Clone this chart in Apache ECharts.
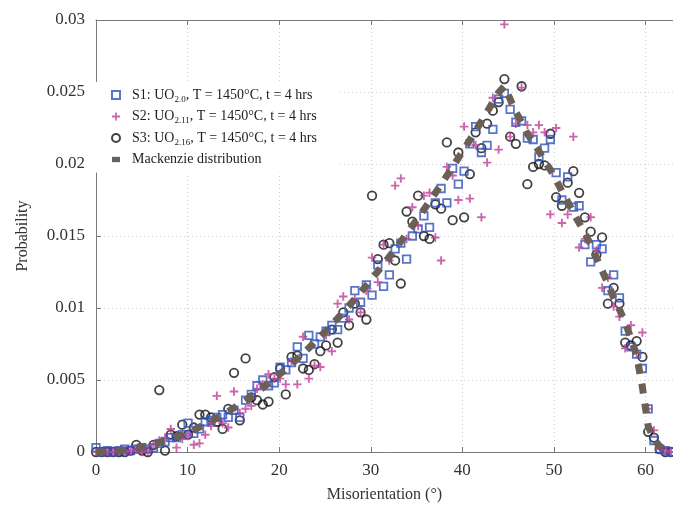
<!DOCTYPE html>
<html>
<head>
<meta charset="utf-8">
<script src="https://cdn.jsdelivr.net/npm/echarts@6/dist/echarts.min.js"></script>
<style>
  html, body { margin: 0; padding: 0; background: #fff; }
  #chart { width: 673px; height: 508px; }
</style>
</head>
<body>
<div id="chart"></div>
<script>
// Misorientation bin centres (degrees)
const angles = [0, 0.63, 1.26, 1.88, 2.51, 3.14, 3.77, 4.4, 5.02, 5.65, 6.28, 6.91, 7.54, 8.16, 8.79, 9.42,
  10.05, 10.68, 11.3, 11.93, 12.56, 13.19, 13.82, 14.44, 15.07, 15.7, 16.33, 16.96, 17.58, 18.21, 18.84, 19.47,
  20.1, 20.72, 21.35, 21.98, 22.61, 23.24, 23.86, 24.49, 25.12, 25.75, 26.38, 27, 27.63, 28.26, 28.89, 29.52,
  30.14, 30.77, 31.4, 32.03, 32.66, 33.28, 33.91, 34.54, 35.17, 35.8, 36.42, 37.05, 37.68, 38.31, 38.94, 39.56,
  40.19, 40.82, 41.45, 42.08, 42.7, 43.33, 43.96, 44.59, 45.22, 45.84, 46.47, 47.1, 47.73, 48.36, 48.98, 49.61,
  50.24, 50.87, 51.5, 52.12, 52.75, 53.38, 54.01, 54.64, 55.26, 55.89, 56.52, 57.15, 57.78, 58.4, 59.03, 59.66,
  60.29, 60.92, 61.54, 62.17, 62.8];

// S1: UO2.0
const s1 = [0.0003, 0, 0.0001, 0, 0.0001, 0.0002, 0.0001, 0.0002, 0.0003, 0.0002, 0.0003, 0.0006, 0.0007, 0.0010, 0.0010, 0.0012,
  0.0020, 0.0013, 0.0016, 0.0021, 0.0022, 0.0024, 0.0026, 0.0024, 0.0029, 0.0024, 0.0036, 0.0040, 0.0046, 0.0050, 0.0046, 0.0048,
  0.0059, 0.0057, 0.0062, 0.0073, 0.0065, 0.0081, 0.0075, 0.0080, 0.0084, 0.0088, 0.0085, 0.0093, 0.0100, 0.0112, 0.0104, 0.0116,
  0.0109, 0.0130, 0.0115, 0.0123, 0.0141, 0.0145, 0.0134, 0.0150, 0.0155, 0.0164, 0.0156, 0.0173, 0.0183, 0.0173, 0.0197, 0.0186,
  0.0195, 0.0214, 0.0226, 0.0208, 0.0213, 0.0224, 0.0245, 0.0249, 0.0238, 0.0229, 0.0230, 0.0218, 0.0217, 0.0205, 0.0211, 0.0217,
  0.0194, 0.0175, 0.0191, 0.0170, 0.0171, 0.0144, 0.0132, 0.0144, 0.0141, 0.0112, 0.0123, 0.0107, 0.0084, 0.0073, 0.0068, 0.0058,
  0.0030, 0.0008, 0.0002, 0.0001, 0];

// S2: UO2.11
const s2 = [0, 0, 0, 0, 0.0001, 0, 0.0001, 0.0002, 0, 0.0001, 0.0005, 0.0008, 0.0010, 0.0016, 0.0003, 0.0009,
  0.0012, 0.0005, 0.0006, 0.0012, 0.0018, 0.0039, 0.0020, 0.0017, 0.0042, 0.0027, 0.0030, 0.0032, 0.0044, 0.0047, 0.0054, 0.0051,
  0.0051, 0.0047, 0.0063, 0.0047, 0.0080, 0.0051, 0.0060, 0.0059, 0.0081, 0.0070, 0.0103, 0.0108, 0.0092, 0.0106, 0.0097, 0.0112,
  0.0135, 0.0118, 0.0144, 0.0133, 0.0185, 0.0190, 0.0148, 0.0170, 0.0157, 0.0178, 0.0180, 0.0149, 0.0133, 0.0198, 0.0192, 0.0175,
  0.0226, 0.0176, 0.0213, 0.0163, 0.0201, 0.0246, 0.0210, 0.0297, 0.0219, 0.0228, 0.0253, 0.0227, 0.0222, 0.0227, 0.0222, 0.0165,
  0.0225, 0.0159, 0.0165, 0.0219, 0.0142, 0.0148, 0.0163, 0.0140, 0.0114, 0.0121, 0.0101, 0.0094, 0.0072, 0.0088, 0.0069, 0.0083,
  0.0030, 0.0015, 0.0002, 0.0001, 0];

// S3: UO2.16
const s3 = [0, 0, 0, 0, 0, 0, 0.0001, 0.0005, 0.0001, 0, 0.0005, 0.0043, 0.0001, 0.0012, 0.0011, 0.0019,
  0.0012, 0.0017, 0.0026, 0.0026, 0.0024, 0.0021, 0.0016, 0.0030, 0.0055, 0.0022, 0.0065, 0.0038, 0.0036, 0.0033, 0.0035, 0.0052,
  0.0058, 0.0040, 0.0066, 0.0067, 0.0058, 0.0057, 0.0061, 0.0070, 0.0074, 0.0085, 0.0076, 0.0097, 0.0088, 0.0103, 0.0097, 0.0092,
  0.0178, 0.0134, 0.0144, 0.0145, 0.0133, 0.0117, 0.0167, 0.0160, 0.0178, 0.0150, 0.0148, 0.0172, 0.0169, 0.0215, 0.0161, 0.0208,
  0.0163, 0.0193, 0.0222, 0.0211, 0.0228, 0.0237, 0.0243, 0.0259, 0.0219, 0.0214, 0.0254, 0.0186, 0.0198, 0.0200, 0.0199, 0.0221,
  0.0177, 0.0171, 0.0187, 0.0195, 0.0180, 0.0163, 0.0153, 0.0137, 0.0149, 0.0103, 0.0114, 0.0103, 0.0076, 0.0074, 0.0077, 0.0066,
  0.0014, 0.0010, 0.0002, 0, 0];

// Mackenzie (random cubic) misorientation distribution
const mackenzie = [0, 0.0000054, 0.0000214, 0.000048, 0.0000856, 0.000134, 0.000193, 0.000262, 0.000342, 0.000433, 0.000535,
  0.000647, 0.00077, 0.000903, 0.001047, 0.001202, 0.001367, 0.001542, 0.001728, 0.001925, 0.002132, 0.002349, 0.002577,
  0.002815, 0.003063, 0.003322, 0.003591, 0.00387, 0.00416, 0.004459, 0.004774, 0.005094, 0.005424, 0.005765, 0.006116,
  0.006477, 0.006846, 0.007227, 0.007617, 0.008017, 0.008427, 0.008846, 0.009276, 0.009714, 0.010162, 0.01062, 0.011087,
  0.011564, 0.012049, 0.012544, 0.013049, 0.013563, 0.014084, 0.014616, 0.015156, 0.015706, 0.016264, 0.016831, 0.017406,
  0.017991, 0.018582, 0.019184, 0.019794, 0.020412, 0.021038, 0.021672, 0.022315, 0.022965, 0.023623, 0.024289, 0.024964,
  0.0254, 0.0245, 0.0236, 0.0229, 0.0221, 0.0215, 0.0209, 0.0202, 0.0196, 0.0189, 0.0181, 0.0174, 0.0166, 0.0159, 0.0152,
  0.0144, 0.0135, 0.0126, 0.0117, 0.0107, 0.0099, 0.0090, 0.0079, 0.0067, 0.0045, 0.0018, 0.0009, 0.0004, 0.0001, 0];

const seriesNames = [
  'S1: UO{sub|2.0}, T = 1450°C, t = 4 hrs',
  'S2: UO{sub|2.11}, T = 1450°C, t = 4 hrs',
  'S3: UO{sub|2.16}, T = 1450°C, t = 4 hrs',
  'Mackenzie distribution'
];

const xTicks = { min: 0, max: 63, interval: 10 };
const yTicks = { min: 0, max: 0.03, interval: 0.005 };

const pairs = ys => angles.map((a, i) => [a, ys[i]]);

const FONT = 'Liberation Serif';
const AXIS_GREY = '#7a7a7a';
const PLUS = 'path://M3.9,0h2.2v3.9h3.9v2.2h-3.9v3.9h-2.2v-3.9h-3.9v-2.2h3.9z';

const chart = echarts.init(document.getElementById('chart'), null, { renderer: 'canvas' });

chart.setOption({
  animation: false,
  backgroundColor: '#fff',
  grid: { left: 96, top: 20, right: 0, bottom: 55, containLabel: false },
  legend: {
    orient: 'vertical',
    left: 96,
    top: 82,
    padding: [4, 22, 4, 15],
    backgroundColor: '#fff',
    itemWidth: 8,
    itemHeight: 8,
    itemGap: 3.5,
    selectedMode: false,
    data: [
      { name: seriesNames[0] },
      { name: seriesNames[1] },
      { name: seriesNames[2] },
      { name: seriesNames[3], icon: 'path://M0,1h9v6h-9z' }
    ],
    formatter: n => n,
    textStyle: {
      fontFamily: FONT,
      fontSize: 14,
      color: '#222',
      lineHeight: 18,
      padding: [0, 0, 0, 7],
      rich: {
        sub: { fontFamily: FONT, fontSize: 9, lineHeight: 9, verticalAlign: 'bottom', color: '#222' }
      }
    }
  },
  xAxis: [{
    type: 'value',
    min: xTicks.min, max: xTicks.max, interval: xTicks.interval,
    name: 'Misorientation (°)',
    nameLocation: 'middle',
    nameGap: 35,
    nameTextStyle: { fontFamily: FONT, fontSize: 16, color: '#333' },
    axisLine: { onZero: false, lineStyle: { color: AXIS_GREY, width: 1 } },
    axisTick: { inside: true, length: 5, lineStyle: { color: AXIS_GREY } },
    axisLabel: { fontFamily: FONT, fontSize: 17, color: '#333', margin: 10, showMaxLabel: false },
    splitLine: { show: true, lineStyle: { color: '#d0d0d0', type: [1, 3], width: 1 } }
  }, {
    type: 'value',
    position: 'top',
    min: xTicks.min, max: xTicks.max, interval: xTicks.interval,
    axisLine: { show: true, onZero: false, lineStyle: { color: AXIS_GREY, width: 1 } },
    axisTick: { show: true, inside: true, length: 5, lineStyle: { color: AXIS_GREY } },
    axisLabel: { show: false },
    splitLine: { show: false }
  }],
  yAxis: {
    type: 'value',
    min: yTicks.min, max: yTicks.max, interval: yTicks.interval,
    name: 'Probability',
    nameLocation: 'middle',
    nameGap: 65,
    nameTextStyle: { fontFamily: FONT, fontSize: 16, color: '#333' },
    axisLine: { show: true, onZero: false, lineStyle: { color: AXIS_GREY, width: 1 } },
    axisTick: { show: true, inside: true, length: 5, lineStyle: { color: AXIS_GREY } },
    axisLabel: { fontFamily: FONT, fontSize: 17, color: '#333', margin: 11 },
    splitLine: { show: true, lineStyle: { color: '#d0d0d0', type: [1, 3], width: 1 } }
  },
  series: [
    {
      name: seriesNames[0], type: 'scatter', data: pairs(s1),
      symbol: 'rect', symbolSize: 7.5,
      itemStyle: { color: 'rgba(255,255,255,0)', borderColor: '#2f52bb', borderWidth: 1.8 },
      z: 3
    },
    {
      name: seriesNames[1], type: 'scatter', data: pairs(s2),
      symbol: PLUS, symbolSize: 8.5,
      itemStyle: { color: '#bf3d9c' },
      z: 4
    },
    {
      name: seriesNames[2], type: 'scatter', data: pairs(s3),
      symbol: 'circle', symbolSize: 8.5,
      itemStyle: { color: 'rgba(255,255,255,0)', borderColor: '#111', borderWidth: 1.8 },
      z: 2
    },
    {
      name: seriesNames[3], type: 'line', data: pairs(mackenzie),
      showSymbol: false, symbol: 'none',
      itemStyle: { color: '#6c5f56' },
      lineStyle: { color: '#6c5f56', width: 7, type: [10, 10], cap: 'butt' },
      z: 5
    }
  ]
});
</script>
</body>
</html>
